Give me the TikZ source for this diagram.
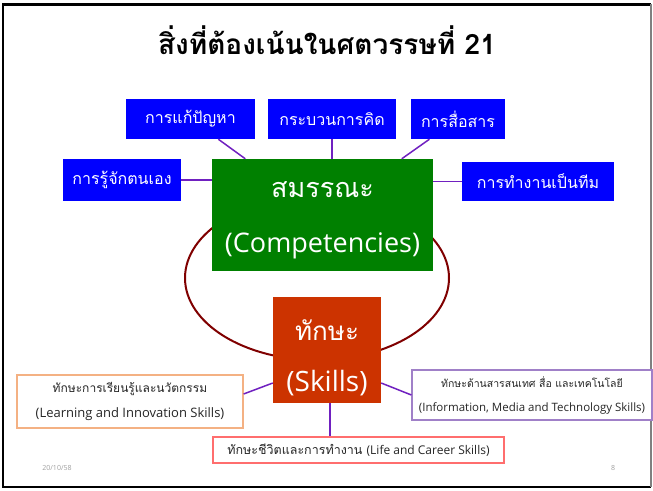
\documentclass[tikz,border=0pt]{standalone}
\usepackage{fontspec}
\setmainfont[Script=Thai]{Loma}
\newfontfamily\thaifont[Script=Thai]{Loma}
\newfontfamily\latinfont{Open Sans}
\usetikzlibrary{positioning}

\begin{document}
\begin{tikzpicture}[x=1pt, y=-1pt]

\definecolor{boxblue}{RGB}{0, 0, 255}
\definecolor{compgreen}{RGB}{0, 128, 0}
\definecolor{skillred}{RGB}{204, 51, 0}
\definecolor{ringred}{RGB}{128, 0, 0}
\definecolor{linkpurple}{RGB}{112, 32, 192}
\definecolor{learnorange}{RGB}{244, 177, 131}
\definecolor{mediapurple}{RGB}{160, 128, 200}
\definecolor{lifepink}{RGB}{255, 110, 110}
\definecolor{footgray}{RGB}{160, 160, 160}

\useasboundingbox (0,0) rectangle (653,490);
\fill[white] (0,0) rectangle (653,490);

\tikzset{
    topic/.style={
        fill=boxblue, text=white, inner sep=0pt,
        font=\thaifont\fontsize{16}{19}\selectfont
    },
    core/.style={
        inner sep=0pt
    },
    coretext/.style={
        text=white, inner sep=0pt
    },
    skillbox/.style={
        draw, fill=white, line width=1.2pt, inner sep=0pt, align=center,
        text=black!85
    },
    link/.style={
        draw=linkpurple, line width=1.5pt
    }
}

% Slide frame
\draw[black, line width=3pt] (2,4) -- (651,4);
\draw[black, line width=2pt] (3,4) -- (3,487) -- (651,487);
\draw[black!50, line width=2pt] (651,4) -- (651,487);

% Title
\node[font=\thaifont\bfseries\fontsize{28}{33}\selectfont] (title) at (327,40) {สิ่งที่ต้องเน้นในศตวรรษที่ 21};

% Ring behind the two centre boxes
\draw[ringred, line width=2pt] (317,278) ellipse [x radius=132, y radius=82];

% --- Competencies and its topics ---
\node[core, fill=compgreen, minimum width=221pt, minimum height=112pt] (comp) at (322.5,215) {};
\node[coretext, font=\thaifont\fontsize{27}{32}\selectfont] (compth) at (322.5,190) {สมรรณะ};
\node[coretext, font=\latinfont\fontsize{27}{32}\selectfont] (compen) at (322.5,246) {(Competencies)};

\node[topic, minimum width=129pt, minimum height=40pt] (problem) at (190.5,119) {การแก้ปัญหา};
\node[topic, minimum width=128pt, minimum height=40pt] (think) at (332,119) {กระบวนการคิด};
\node[topic, minimum width=94pt, minimum height=40pt] (comm) at (458,119) {การสื่อสาร};
\node[topic, minimum width=118pt, minimum height=42pt] (self) at (122,180) {การรู้จักตนเอง};
\node[topic, minimum width=152pt, minimum height=39pt] (team) at (538,181.5) {การทำงานเป็นทีม};

\draw[link] (problem) -- (comp);
\draw[link] (think.south) -- (think.south |- comp.north);
\draw[link] (comm) -- (comp);
\draw[link] (self.east) -- (self.east -| comp.west);
\draw[link] (team.west) -- (team.west -| comp.east);

% --- Skills and its three groups ---
\node[core, fill=skillred, minimum width=108pt, minimum height=106pt] (skills) at (327,350) {};
\node[coretext, font=\thaifont\fontsize{26}{31}\selectfont] (skillsth) at (327,330) {ทักษะ};
\node[coretext, font=\latinfont\fontsize{28}{33}\selectfont] (skillsen) at (327,383) {(Skills)};

\node[skillbox, draw=learnorange, minimum width=226pt, minimum height=53pt,
      font=\fontsize{12}{25}\selectfont] (learn) at (130,401.5)
      {{\thaifont ทักษะการเรียนรู้และนวัตกรรม}\\{\latinfont\fontsize{13}{25}\selectfont (Learning and Innovation Skills)}};
\node[skillbox, draw=mediapurple, minimum width=240pt, minimum height=50pt,
      font=\fontsize{10.5}{24}\selectfont] (media) at (532,395)
      {{\thaifont ทักษะด้านสารสนเทศ สื่อ และเทคโนโลยี}\\{\latinfont\fontsize{11.5}{24}\selectfont (Information, Media and Technology Skills)}};
\node[skillbox, draw=lifepink, minimum width=291pt, minimum height=26pt,
      font=\fontsize{12.5}{15}\selectfont] (life) at (358.5,450)
      {{\thaifont ทักษะชีวิตและการทำงาน} {\latinfont\fontsize{12}{15}\selectfont (Life and Career Skills)}};

\draw[link] ([yshift=-33pt]skills.west) -- ([yshift=7.5pt]learn.east);
\draw[link] ([yshift=-33pt]skills.east) -- (media.west);
\draw[link] ([xshift=3pt]skills.south) -- ([xshift=3pt]skills.south |- life.north);

% Footer
\node[text=footgray, font=\latinfont\fontsize{7}{8}\selectfont] (date) at (57,468) {20/10/58};
\node[text=footgray, font=\latinfont\fontsize{7}{8}\selectfont] (page) at (613,468) {8};

\end{tikzpicture}
\end{document}
